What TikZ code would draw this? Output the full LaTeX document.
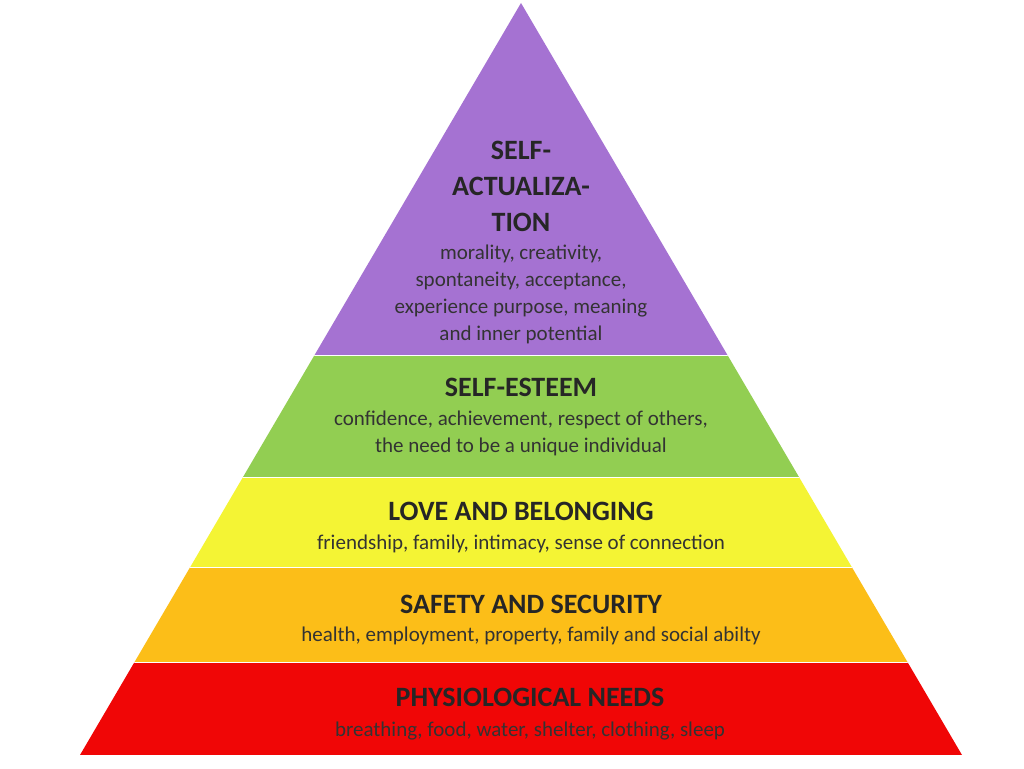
\documentclass[tikz,border=0pt]{standalone}
\usepackage{fontspec}
\setmainfont{Carlito}
\begin{document}
\begin{tikzpicture}[x=1pt,y=-1pt,
 head/.style={font=\fontsize{28}{36}\selectfont\bfseries,align=center,inner sep=0pt,text=black!85},
 body/.style={font=\fontsize{21}{27}\selectfont,align=center,inner sep=0pt,text=black!80}]
\useasboundingbox (0,0) rectangle (1024,768);
\fill[white] (0,0) rectangle (1024,768);
\begin{scope}
\clip (521,3) -- (962,755) -- (80,755) -- cycle;
\fill[color={rgb,255:red,165;green,114;blue,210}] (0,0) rectangle (1024,355);
\fill[color={rgb,255:red,146;green,206;blue,82}] (0,355) rectangle (1024,477);
\fill[color={rgb,255:red,244;green,244;blue,52}] (0,477) rectangle (1024,567);
\fill[color={rgb,255:red,252;green,190;blue,24}] (0,567) rectangle (1024,662);
\fill[color={rgb,255:red,240;green,6;blue,6}] (0,662) rectangle (1024,755);
\draw[white,line width=1] (0,355)--(1024,355) (0,477)--(1024,477) (0,567)--(1024,567) (0,662)--(1024,662);
\end{scope}
\node[head] (h5) at (521,186) {SELF-\\ACTUALIZA-\\TION};
\node[body] (b5) at (521,294) {morality, creativity,\\spontaneity, acceptance,\\experience purpose, meaning\\and inner potential};
\node[head] (h4) at (521,387) {SELF-ESTEEM};
\node[body] (b4) at (521,433) {confidence, achievement, respect of others,\\the need to be a unique individual};
\node[head] (h3) at (521,511) {LOVE AND BELONGING};
\node[body] (b3) at (521,544) {friendship, family, intimacy, sense of connection};
\node[head] (h2) at (531,604) {SAFETY AND SECURITY};
\node[body] (b2) at (531,636) {health, employment, property, family and social abilty};
\node[head] (h1) at (530,697) {PHYSIOLOGICAL NEEDS};
\node[body] (b1) at (530,731) {breathing, food, water, shelter, clothing, sleep};
\end{tikzpicture}
\end{document}
